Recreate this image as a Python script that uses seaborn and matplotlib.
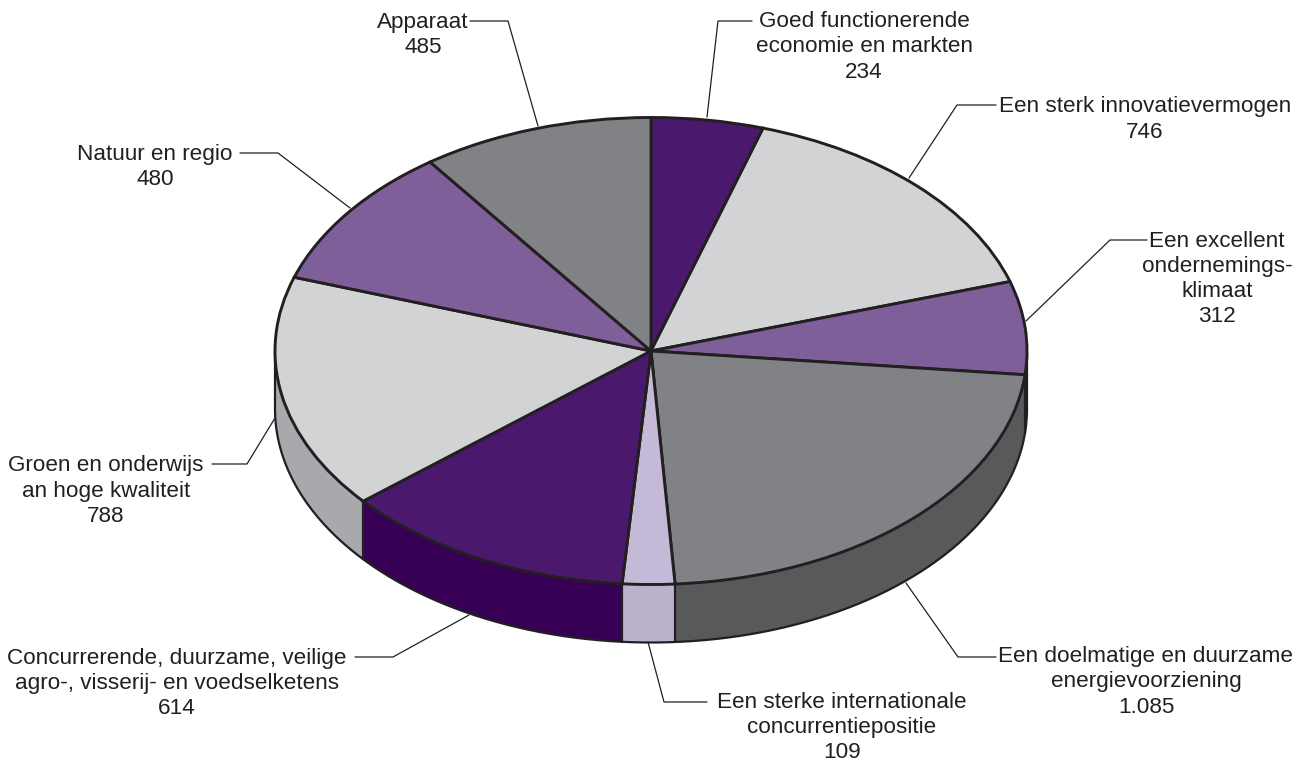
import numpy as np
import matplotlib
matplotlib.use('Agg')
import matplotlib.pyplot as plt
import seaborn as sns

## waarden per beleidsartikel, met de klok mee vanaf boven
labels = ['Goed functionerende\neconomie en markten\n234',
          'Een sterk innovatievermogen\n746',
          'Een excellent\nondernemings-\nklimaat\n312',
          'Een doelmatige en duurzame\nenergievoorziening\n1.085',
          'Een sterke internationale\nconcurrentiepositie\n109',
          'Concurrerende, duurzame, veilige\nagro-, visserij- en voedselketens\n614',
          'Groen en onderwijs\nan hoge kwaliteit\n788',
          'Natuur en regio\n480',
          'Apparaat\n485']
values = [234, 746, 312, 1085, 109, 614, 788, 480, 485]
top_colors = ['#4a186c', '#d1d3d4', '#7f5f99', '#808285', '#c4b9d7',
              '#4a186c', '#d1d3d4', '#7f5f99', '#808285']
side_colors = ['#380055', '#a7a9ac', '#5f4578', '#58595b', '#bcb2cb',
               '#380055', '#a7a9ac', '#5f4578', '#58595b']

## label midden (x, y) en aanwijslijn in pixels van het plaatje
label_pos = [(864, 47), (1145, 119.5), (1217, 279), (1146, 682), (842, 727.5),
             (177, 683.5), (106, 491), (155, 167), (423, 35)]
leaders = [[(707, 117), (718, 21), (752, 21)],
           [(909, 178), (957, 105), (996, 105)],
           [(1026, 321), (1110, 240), (1147, 240)],
           [(906, 583), (958, 657), (996, 657)],
           [(648, 642), (664, 702), (707, 702)],
           [(469, 615), (393, 657), (355, 657)],
           [(275, 418), (247, 464), (212, 464)],
           [(350, 208), (278, 153), (240, 153)],
           [(538, 126), (508, 21), (470, 21)]]

W, H = 1310, 763
CX, CY, RX, RY = 651, 351, 376, 233.5
DEPTH = 58
INK = '#231f20'

sns.set_theme(style='white')
plt.rcParams['font.family'] = ['Liberation Sans', 'DejaVu Sans']

fig = plt.figure(figsize=(W / 100, H / 100), dpi=100)
ax = fig.add_axes([0, 0, 1, 1])

## zijkant: dezelfde taart steeds iets lager, onderste eerst
for px in range(DEPTH, 0, -1):
    side, _ = ax.pie(values, colors=side_colors, startangle=90, counterclock=False,
                     center=(0, -px / RY), wedgeprops={'linewidth': 0.4})
    for w in side:
        w.set_edgecolor(w.get_facecolor())

## bovenkant
top, _ = ax.pie(values, colors=top_colors, startangle=90, counterclock=False,
                wedgeprops={'linewidth': 2.1, 'edgecolor': INK, 'zorder': 3})

ax.set_aspect('auto')
ax.set_xlim(-CX / RX, (W - CX) / RX)
ax.set_ylim((CY - H) / RY, CY / RY)

## buitenlijn onder en verticale lijnen tussen de zijvlakken
t = np.radians(np.linspace(180, 360, 300))
ax.plot(np.cos(t), np.sin(t) - DEPTH / RY, color=INK, lw=1.6, zorder=2)
for w in top:
    a = np.radians(w.theta1)
    if np.sin(a) < 0:
        ax.plot([np.cos(a)] * 2, [np.sin(a), np.sin(a) - DEPTH / RY], color=INK, lw=1.6, zorder=2)
for x in [-1, 1]:
    ax.plot([x, x], [0, -DEPTH / RY], color=INK, lw=1.6, zorder=2)

## teksten en aanwijslijnen op een laag in pixels
over = fig.add_axes([0, 0, 1, 1], facecolor='none')
over.set_xlim(0, W)
over.set_ylim(H, 0)
over.axis('off')
for pts in leaders:
    xs, ys = zip(*pts)
    over.plot(xs, ys, color=INK, lw=0.9)
for txt, (x, y) in zip(labels, label_pos):
    over.text(x, y, txt, ha='center', va='center', fontsize=16.2, color=INK, linespacing=1.27)

fig.savefig('out.png', dpi=100)
